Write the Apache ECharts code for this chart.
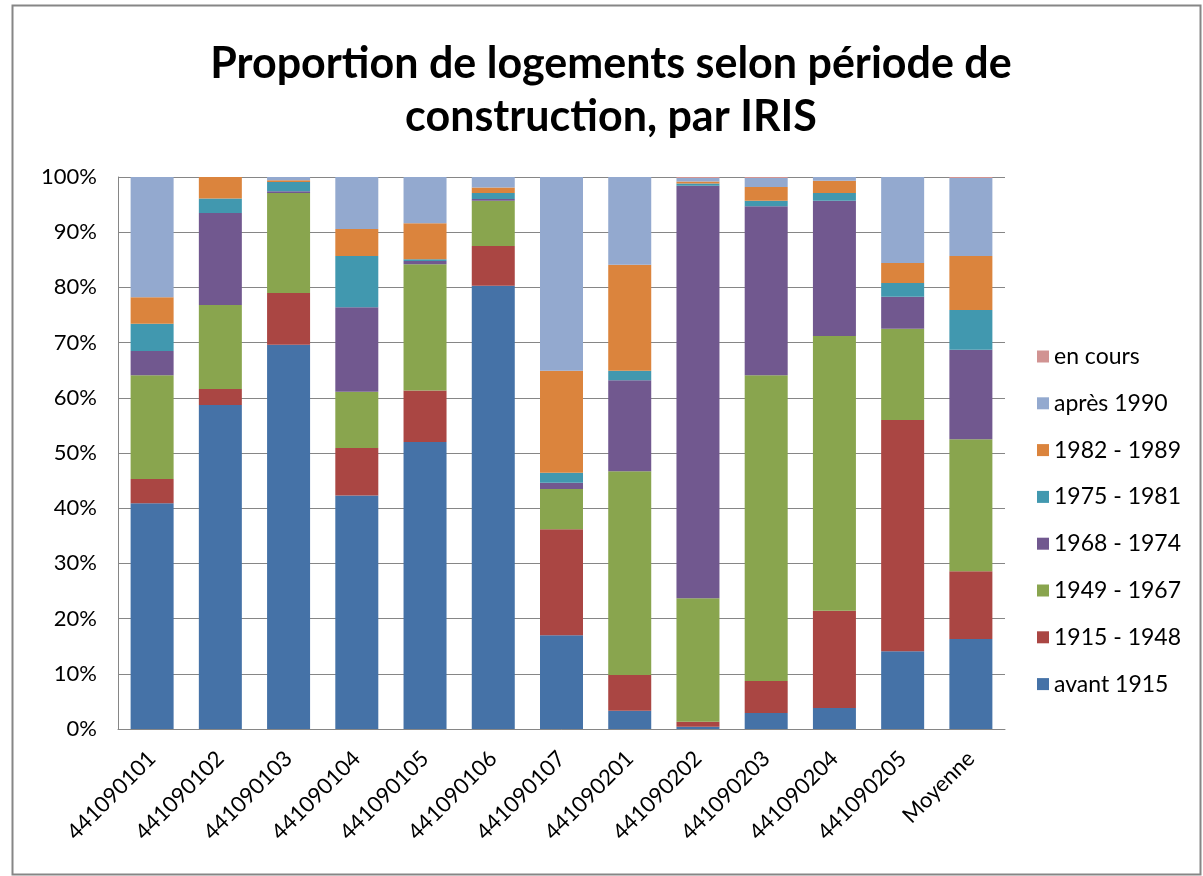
<!DOCTYPE html>
<html>
<head>
<meta charset="utf-8">
<title>Proportion de logements</title>
<script src="https://cdn.jsdelivr.net/npm/echarts@6/dist/echarts.min.js"></script>
<style>
  html, body { margin: 0; padding: 0; background: #fff; }
  #chart { width: 1203px; height: 876px; }
</style>
</head>
<body>
<div id="chart"></div>
<script>
// IRIS codes + average
const categories = [
  "441090101", "441090102", "441090103", "441090104", "441090105", "441090106",
  "441090107", "441090201", "441090202", "441090203", "441090204", "441090205", "Moyenne"
];

// shares in %
const avant1915 = [40.9, 58.7, 69.6, 42.3, 52.0, 80.3, 17.0, 3.3, 0.4, 2.9, 3.8, 14.1, 16.3];
const p1915_1948 = [4.4, 2.9, 9.4, 8.6, 9.3, 7.2, 19.2, 6.5, 0.9, 5.8, 17.6, 41.9, 12.3];
const p1949_1967 = [18.8, 15.2, 18.1, 10.2, 22.9, 8.2, 7.3, 36.9, 22.4, 55.4, 49.8, 16.5, 23.9];
const p1968_1974 = [4.4, 16.7, 0.3, 15.3, 0.6, 0.3, 1.1, 16.5, 74.7, 30.6, 24.5, 5.8, 16.2];
const p1975_1981 = [4.9, 2.6, 1.7, 9.3, 0.3, 1.1, 1.8, 1.7, 0.4, 1.0, 1.4, 2.5, 7.2];
const p1982_1989 = [4.8, 3.9, 0.3, 4.9, 6.5, 1.0, 18.5, 19.2, 0.4, 2.5, 2.2, 3.6, 9.8];
const apres1990 = [21.8, 0, 0.7, 9.4, 8.5, 1.9, 35.1, 15.9, 0.6, 1.6, 0.7, 15.6, 14.1];
const enCours = [0, 0, 0, 0, 0, 0, 0, 0, 0.2, 0.2, 0, 0, 0.2];

const yTicks = [0, 10, 20, 30, 40, 50, 60, 70, 80, 90, 100];

const periods = [
  { name: "avant 1915", data: avant1915, color: "#4572A7" },
  { name: "1915 - 1948", data: p1915_1948, color: "#AA4643" },
  { name: "1949 - 1967", data: p1949_1967, color: "#89A54E" },
  { name: "1968 - 1974", data: p1968_1974, color: "#71588F" },
  { name: "1975 - 1981", data: p1975_1981, color: "#4198AF" },
  { name: "1982 - 1989", data: p1982_1989, color: "#DB843D" },
  { name: "après 1990", data: apres1990, color: "#93A9CF" },
  { name: "en cours", data: enCours, color: "#D19392" }
];

const font = "Lato, 'Liberation Sans', sans-serif";
const chart = echarts.init(document.getElementById("chart"), null, { renderer: "canvas" });

const option = {
  animation: false,
  backgroundColor: "#fff",
  textStyle: { fontFamily: font },
  title: {
    text: "Proportion de logements selon période de\nconstruction, par IRIS",
    left: 606,
    top: 33,
    textAlign: "center",
    textStyle: {
      fontFamily: font,
      fontSize: 43,
      fontWeight: "bold",
      color: "#000",
      lineHeight: 53
    }
  },
  legend: {
    orient: "vertical",
    left: 1032,
    top: 340,
    itemWidth: 12,
    itemHeight: 12,
    itemGap: 23.8,
    icon: "rect",
    data: periods.map((p) => p.name).reverse(),
    textStyle: { fontFamily: font, fontSize: 23, color: "#000" }
  },
  grid: {
    left: 118,
    right: 198,
    top: 177,
    bottom: 147,
    containLabel: false
  },
  xAxis: {
    type: "category",
    data: categories,
    axisLine: { lineStyle: { color: "#868686", width: 1 } },
    axisTick: { show: false },
    axisLabel: {
      rotate: 45,
      interval: 0,
      margin: 26,
      fontSize: 22,
      color: "#000",
      fontFamily: font
    }
  },
  yAxis: {
    type: "value",
    min: yTicks[0],
    max: yTicks[yTicks.length - 1],
    interval: 10,
    axisLine: { show: true, lineStyle: { color: "#868686", width: 1 } },
    axisTick: { show: false },
    splitLine: { lineStyle: { color: "#868686", width: 1 } },
    axisLabel: {
      formatter: "{value}%",
      margin: 21,
      fontSize: 22,
      color: "#000",
      fontFamily: font
    }
  },
  series: periods.map((p) => ({
    name: p.name,
    type: "bar",
    stack: "total",
    barWidth: 43,
    data: p.data,
    itemStyle: { color: p.color }
  })),
  graphic: [
    {
      type: "rect",
      left: 10,
      top: 3,
      shape: { width: 1188, height: 869 },
      style: { fill: "none", stroke: "#868686", lineWidth: 2 },
      silent: true
    }
  ]
};

chart.setOption(option);
</script>
</body>
</html>
